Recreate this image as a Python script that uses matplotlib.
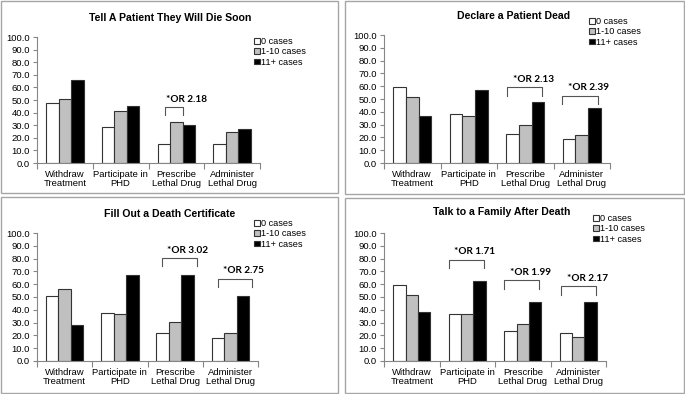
import matplotlib
matplotlib.use("Agg")
import matplotlib.pyplot as plt
from matplotlib.patches import Rectangle, Patch
import numpy as np

plt.rcParams['font.family'] = ['Liberation Sans', 'DejaVu Sans']

categories = ['Withdraw\nTreatment', 'Participate in\nPHD', 'Prescribe\nLethal Drug', 'Administer\nLethal Drug']
series_names = ['0 cases', '1-10 cases', '11+ cases']
yticks = [0, 10, 20, 30, 40, 50, 60, 70, 80, 90, 100]

titles = ['Tell A Patient They Will Die Soon', 'Declare a Patient Dead',
          'Fill Out a Death Certificate', 'Talk to a Family After Death']

# [0 cases, 1-10 cases, 11+ cases] per category
tell_values = [[47.9, 51.0, 66.0], [28.2, 41.2, 45.2], [15.4, 32.7, 29.8], [15.4, 24.5, 26.9]]
declare_values = [[59.2, 51.2, 36.9], [37.9, 37.1, 57.4], [22.9, 29.4, 47.5], [18.4, 22.1, 43.1]]
fill_values = [[50.4, 56.4, 27.8], [37.7, 36.9, 67.0], [22.1, 30.1, 67.0], [18.2, 22.1, 50.6]]
talk_values = [[59.5, 51.9, 38.4], [36.9, 36.4, 62.3], [23.6, 28.8, 46.2], [21.6, 19.0, 46.2]]

# odds ratio labels: (category index, label)
tell_or = [(2, '*OR 2.18')]
declare_or = [(2, '*OR 2.13'), (3, '*OR 2.39')]
fill_or = [(2, '*OR 3.02'), (3, '*OR 2.75')]
talk_or = [(1, '*OR 1.71'), (2, '*OR 1.99'), (3, '*OR 2.17')]

# bracket geometry per OR: (left offset, right offset, bracket height)
tell_br = [(-0.21, 0.11, 44.7)]
declare_br = [(-0.32, 0.30, 59.2), (-0.35, 0.29, 52.7)]
fill_br = [(-0.24, 0.40, 80.5), (-0.23, 0.40, 64.4)]
talk_br = [(-0.33, 0.30, 79.2), (-0.33, 0.29, 62.9), (-0.31, 0.32, 58.4)]

colors = ['white', '#c0c0c0', 'black']
W, H = 685, 394


def fig_rect(x0, y0, x1, y1):
    # pixel box (top-left origin) -> figure fraction [l, b, w, h]
    return [x0 / W, 1 - y1 / H, (x1 - x0) / W, (y1 - y0) / H]


fig = plt.figure(figsize=(6.85, 3.94), dpi=100)

panels = [
    dict(box=(1, 1, 338, 193), ax=(37, 37, 260, 163), title=(170, 18), leg=(254, 37),
         vals=tell_values, ors=tell_or, br=tell_br, tx=0.02),
    dict(box=(345, 1, 684, 194), ax=(384, 35, 610, 163), title=(514, 16), leg=(589, 17),
         vals=declare_values, ors=declare_or, br=declare_br, tx=0.1),
    dict(box=(1, 197, 338, 393), ax=(37, 233, 258, 361), title=(170, 214), leg=(254, 219),
         vals=fill_values, ors=fill_or, br=fill_br, tx=0.1),
    dict(box=(345, 198, 684, 393), ax=(384, 233, 606, 361), title=(502, 212), leg=(593, 214),
         vals=talk_values, ors=talk_or, br=talk_br, tx=0.1),
]

w = 0.225
x = np.arange(len(categories))

for p, title in zip(panels, titles):
    bx = p['box']
    fig.patches.append(Rectangle((bx[0] / W, 1 - bx[3] / H), (bx[2] - bx[0]) / W, (bx[3] - bx[1]) / H,
                                 transform=fig.transFigure, fill=False, edgecolor='#a6a6a6', linewidth=1.0))
    ax = fig.add_axes(fig_rect(*p['ax']))
    vals = np.array(p['vals'])
    for j in range(3):
        ax.bar(x + (j - 1) * w, vals[:, j], width=w, color=colors[j],
               edgecolor='#333333', linewidth=0.8, label=series_names[j])
    ax.set_xlim(-0.5, 3.5)
    ax.set_ylim(0, 100)
    ax.set_yticks(yticks)
    ax.set_yticklabels([f'{v:.1f}' for v in yticks], fontsize=6.8)
    ax.set_xticks(x)
    ax.set_xticklabels(categories, fontsize=6.8, linespacing=1.05)
    ax.set_xticks(np.arange(-0.5, 4, 1), minor=True)
    ax.tick_params(axis='x', which='major', length=0, pad=5)
    ax.tick_params(axis='x', which='minor', length=4, color='#868686', width=0.8)
    ax.tick_params(axis='y', length=3, color='#868686', width=0.8, pad=2)
    for s in ['top', 'right']:
        ax.spines[s].set_visible(False)
    for s in ['left', 'bottom']:
        ax.spines[s].set_color('#868686')
        ax.spines[s].set_linewidth(0.8)

    for (ci, lab), (l, r, h) in zip(p['ors'], p['br']):
        ax.plot([ci + l, ci + l, ci + r, ci + r], [h - 6.5, h, h, h - 6.5],
                color='#555555', linewidth=0.8, clip_on=False)
        ax.text(ci + l + p['tx'], h + 6, lab, fontsize=7.2, fontweight='bold',
                family=['Lato', 'DejaVu Sans'], ha='left', va='center')

    fig.text(p['title'][0] / W, 1 - p['title'][1] / H, title, fontsize=7.6,
             fontweight='bold', ha='center', va='center')

    handles = [Patch(facecolor=c, edgecolor='#333333', linewidth=0.8) for c in colors]
    fig.legend(handles, series_names, loc='upper left',
               bbox_to_anchor=(p['leg'][0] / W, 1 - p['leg'][1] / H),
               frameon=False, fontsize=6.6, handlelength=0.6, handleheight=0.6,
               handletextpad=0.15, labelspacing=0.15, borderpad=0, borderaxespad=0)

fig.savefig('out.png', dpi=100)
